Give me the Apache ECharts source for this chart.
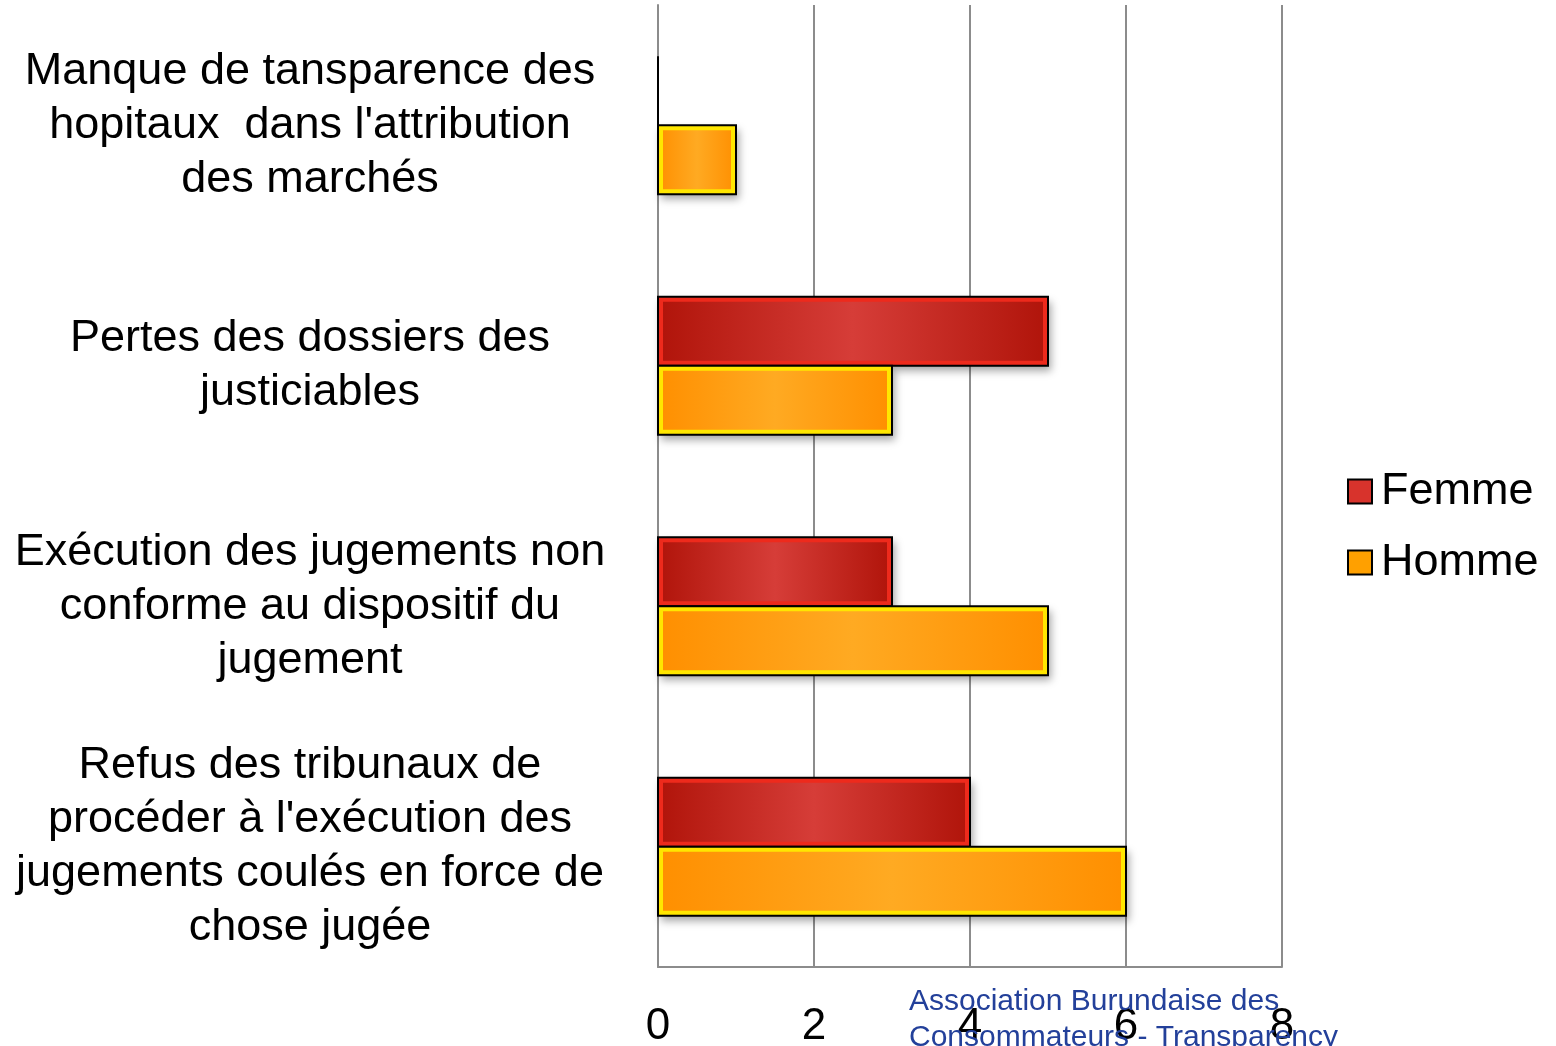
<!DOCTYPE html>
<html>
<head>
<meta charset="utf-8">
<script src="https://cdn.jsdelivr.net/npm/echarts@6/dist/echarts.min.js"></script>
<style>
  html, body { margin: 0; padding: 0; background: #fff; }
  #chart { width: 1556px; height: 1046px; }
</style>
</head>
<body>
<div id="chart"></div>
<script>
var categories = [
    "Manque de tansparence des\nhopitaux  dans l'attribution\ndes marchés",
    "Pertes des dossiers des\njusticiables",
    "Exécution des jugements non\nconforme au dispositif du\njugement",
    "Refus des tribunaux de\nprocéder à l'exécution des\njugements coulés en force de\nchose jugée"
];
var femme = [0, 5, 3, 4];
var homme = [1, 3, 5, 6];
var xTicks = [0, 2, 4, 6, 8];

var font = 'Liberation Sans';
var barH = 69;

// look of each series: fill gradient (edges / middle) and bevel colour
var looks = [
    { edge: '#b0140a', mid: '#d63d38', bevel: '#ee2a1c' },
    { edge: '#ff8f00', mid: '#ffaa22', bevel: '#ffe600' }
];

function grad(edge, mid) {
    return new echarts.graphic.LinearGradient(0, 0, 1, 0, [
        { offset: 0, color: edge },
        { offset: 0.5, color: mid },
        { offset: 1, color: edge }
    ]);
}

// bars drawn through the axes: api.coord gives the band centre for each category
function makeRender(idx) {
    var look = looks[idx];
    return function(params, api) {
        var c = api.value(1);
        var p0 = api.coord([0, c]);
        var p1 = api.coord([api.value(0), c]);
        var y = p0[1] + (idx === 0 ? -barH : 0);
        var w = p1[0] - p0[0];
        var kids = [{
            type: 'rect',
            shape: { x: p0[0], y: y, width: w, height: barH },
            style: {
                fill: grad(look.edge, look.mid),
                shadowColor: 'rgba(0,0,0,0.35)',
                shadowBlur: 8,
                shadowOffsetX: 3,
                shadowOffsetY: 5
            }
        }];
        if (w > 8) {
            kids.push({
                type: 'rect',
                shape: { x: p0[0] + 2.5, y: y + 2.5, width: w - 5, height: barH - 5 },
                style: { fill: null, stroke: look.bevel, lineWidth: 5 }
            });
        }
        kids.push({
            type: 'rect',
            shape: { x: p0[0], y: y, width: w, height: barH },
            style: { fill: null, stroke: '#000', lineWidth: 2 }
        });
        return { type: 'group', children: kids };
    };
}

function pairs(arr) {
    return arr.map(function(v, i) { return [v, i]; });
}

var chart = echarts.init(document.getElementById('chart'));
chart.setOption({
    animation: false,
    textStyle: { fontFamily: font },
    grid: { left: 658, right: 274, top: 5, bottom: 79, outerBoundsMode: 'none', containLabel: false },
    legend: {
        orient: 'vertical',
        left: 1342,
        top: 464,
        icon: 'rect',
        itemWidth: 24,
        itemHeight: 24,
        itemGap: 26,
        textStyle: { fontSize: 45, color: '#000', fontFamily: font, padding: [0, 0, 0, 4] },
        data: [
            { name: 'Femme', itemStyle: { color: '#d8332c', borderColor: '#000', borderWidth: 2 } },
            { name: 'Homme', itemStyle: { color: '#ffa000', borderColor: '#000', borderWidth: 2 } }
        ]
    },
    xAxis: {
        type: 'value',
        min: xTicks[0],
        max: xTicks[xTicks.length - 1],
        interval: 2,
        axisLine: { show: true, lineStyle: { color: '#8c8c8c', width: 2 } },
        axisTick: { show: false },
        axisLabel: { fontSize: 44, color: '#000', margin: 38, fontFamily: font },
        splitLine: { show: true, lineStyle: { color: '#8c8c8c', width: 2 } }
    },
    yAxis: {
        type: 'category',
        inverse: true,
        data: categories,
        axisLine: { show: true, lineStyle: { color: '#8c8c8c', width: 2 } },
        axisTick: { show: false },
        axisLabel: {
            fontSize: 45,
            color: '#000',
            align: 'center',
            margin: 348,
            lineHeight: 54,
            padding: [7, 0, 0, 0],
            fontFamily: font
        }
    },
    series: [
        {
            name: 'Femme',
            type: 'custom',
            renderItem: makeRender(0),
            encode: { x: 0, y: 1 },
            itemStyle: { color: '#d8332c' },
            data: pairs(femme),
            z: 3
        },
        {
            name: 'Homme',
            type: 'custom',
            renderItem: makeRender(1),
            encode: { x: 0, y: 1 },
            itemStyle: { color: '#ffa000' },
            data: pairs(homme),
            z: 3
        }
    ],
    graphic: [
        {
            type: 'text',
            left: 909,
            top: 984,
            z: 100,
            style: {
                text: 'Association Burundaise des\nConsommateurs - Transparency',
                fill: '#23409a',
                font: '30px "Liberation Sans"',
                lineHeight: 36
            }
        }
    ]
});
</script>
</body>
</html>
